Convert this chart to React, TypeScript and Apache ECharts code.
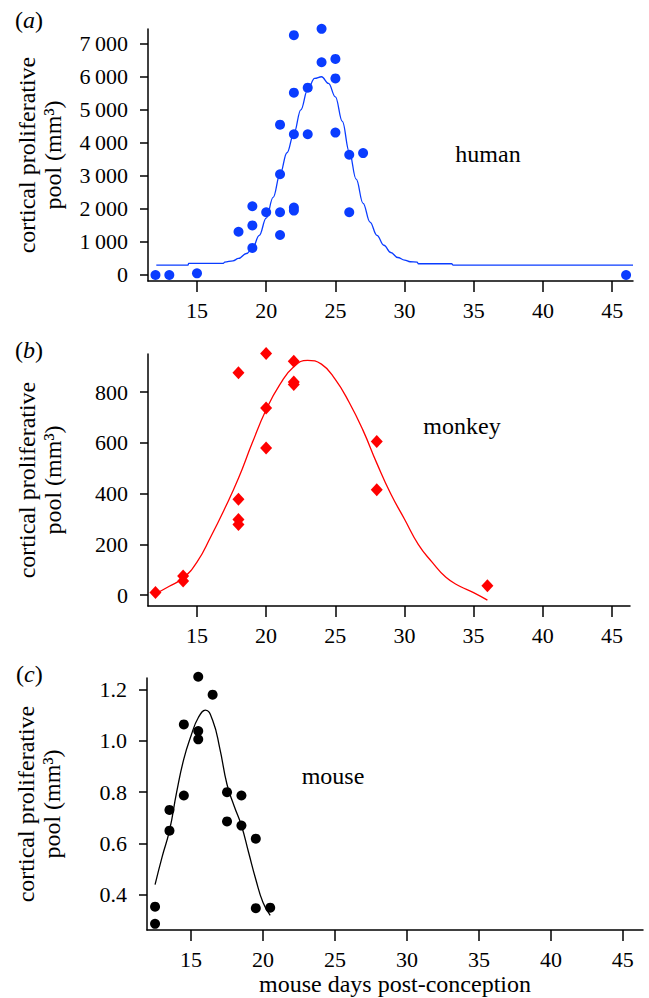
import React, { useEffect, useRef } from "react";
import * as echarts from "echarts";

const FONT = "Liberation Serif";

// Tick values
const xTicks = [15, 20, 25, 30, 35, 40, 45];
const humanYTicks = [0, 1000, 2000, 3000, 4000, 5000, 6000, 7000];
const monkeyYTicks = [0, 200, 400, 600, 800];
const mouseYTicks = [0.4, 0.6, 0.8, 1.0, 1.2];

// Human data (day, pool mm3)
const humanPoints: [number, number][] = [
  [12, 0], [13, 0], [15, 50], [18, 1310], [19, 2080], [19, 1500], [19, 820],
  [20, 1900], [21, 4550], [21, 3050], [21, 1900], [21, 1210],
  [22, 7260], [22, 5520], [22, 4260], [22, 2040], [22, 1950],
  [23, 5670], [23, 4260], [24, 7450], [24, 6440], [25, 6540], [25, 5950], [25, 4310],
  [26, 3640], [26, 1900], [27, 3690], [46, 0],
];
const humanCurve: [number, number][] = [
  [12.06, 300], [14.35, 300], [14.4, 350], [16.9, 350], [17.0, 390], [17.6, 430],
  [18.0, 500], [18.57, 650], [19, 800], [19.5, 1200], [20, 1720], [20.5, 2350],
  [21, 3050], [21.5, 3700], [22, 4280], [22.5, 5000], [23, 5620], [23.5, 5950],
  [24, 6000], [24.5, 5800], [25, 5390], [25.5, 4650], [26, 3730], [26.5, 2900],
  [27, 2170], [27.5, 1600], [28, 1200], [28.5, 900], [29, 680], [29.5, 530],
  [30, 450], [30.4, 400], [30.9, 390], [31.0, 340], [33.4, 340], [33.5, 300], [46.5, 300],
];

// Monkey data
const monkeyPoints: [number, number][] = [
  [12, 10], [14, 75], [14, 56], [18, 876], [18, 378], [18, 298], [18, 278],
  [20, 952], [20, 737], [20, 580], [22, 921], [22, 840], [22, 830],
  [28, 605], [28, 415], [36, 37],
];
const monkeyCurve: [number, number][] = [
  [12, 5], [13, 35], [14, 67], [15, 130], [16, 230], [17, 340], [18, 460],
  [19, 600], [20, 730], [21, 830], [22, 900], [23, 925], [24, 910], [25, 850],
  [26, 760], [27, 650], [28, 520], [29, 400], [30, 300], [31, 200], [32, 130],
  [33, 70], [34, 35], [35, 10], [36, -20],
];

// Mouse data
const mousePoints: [number, number][] = [
  [12.5, 0.354], [12.5, 0.287], [13.5, 0.731], [13.5, 0.65], [14.5, 1.064], [14.5, 0.787],
  [15.5, 1.25], [15.5, 1.038], [15.5, 1.006], [16.5, 1.18], [17.5, 0.8], [17.5, 0.686],
  [18.5, 0.787], [18.5, 0.67], [19.5, 0.619], [19.5, 0.348], [20.5, 0.35],
];
const mouseCurve: [number, number][] = [
  [12.5, 0.44], [13, 0.55], [13.5, 0.65], [14, 0.8], [14.5, 0.93], [15, 1.02],
  [15.5, 1.09], [16, 1.12], [16.5, 1.08], [17, 0.97], [17.5, 0.83], [18, 0.745],
  [18.5, 0.67], [19, 0.565], [19.5, 0.46], [20, 0.37], [20.5, 0.32],
];

const BLUE = "#0a3cff";
const RED = "#ff0000";
const BLACK = "#000000";

function fmtThousands(v: number) {
  if (v === 0) return "0";
  const s = String(Math.round(v));
  return s.slice(0, s.length - 3) + "\u2009" + s.slice(s.length - 3);
}

const labelText = {
  fontFamily: FONT,
  fontSize: 22,
  color: BLACK,
};

function xAxisDef(gridIndex: number, min: number, max: number, extra: any = {}) {
  return {
    type: "value",
    gridIndex,
    min,
    max,
    axisLine: { show: true, onZero: false, lineStyle: { color: BLACK, width: 1.5 } },
    axisTick: { show: true, length: 11, customValues: xTicks, lineStyle: { color: BLACK, width: 1.5 } },
    axisLabel: {
      customValues: xTicks,
      ...labelText,
      margin: 18,
    },
    splitLine: { show: false },
    ...extra,
  };
}

function yAxisDef(gridIndex: number, min: number, max: number, ticks: number[], formatter: (v: number) => string) {
  return {
    type: "value",
    gridIndex,
    min,
    max,
    name: "cortical proliferative\npool (mm\u00b3)",
    nameLocation: "middle",
    nameRotate: 90,
    nameGap: 82,
    nameTextStyle: { fontFamily: FONT, fontSize: 24, lineHeight: 26, color: BLACK },
    axisLine: { show: true, onZero: false, lineStyle: { color: BLACK, width: 1.5 } },
    axisTick: { show: true, length: 8, customValues: ticks, lineStyle: { color: BLACK, width: 1.5 } },
    axisLabel: {
      customValues: ticks,
      formatter,
      ...labelText,
      margin: 20,
    },
    splitLine: { show: false },
  };
}

export default function App() {
  const ref = useRef<HTMLDivElement>(null);
  useEffect(() => {
    document.body.style.margin = "0";
    if (!ref.current) return;
    const chart = echarts.init(ref.current, undefined, { renderer: "svg" });
    const letter = (l: string, x: number, y: number) => ({
      type: "text",
      x,
      y,
      style: {
        text: "{p|(}{i|" + l + "}{p|)}",
        align: "left",
        verticalAlign: "middle",
        rich: {
          p: { fontFamily: FONT, fontSize: 24, fill: BLACK },
          i: { fontFamily: FONT, fontSize: 24, fontStyle: "italic", fill: BLACK },
        },
      },
    });
    const label = (t: string, x: number, y: number) => ({
      type: "text",
      x,
      y,
      style: {
        text: t,
        align: "center",
        verticalAlign: "middle",
        fontFamily: FONT,
        fontSize: 24,
        fill: BLACK,
      },
    });
    chart.setOption({
      animation: false,
      backgroundColor: "#ffffff",
      textStyle: { fontFamily: FONT, color: BLACK },
      grid: [
        { left: 148, top: 29, width: 485, height: 252, containLabel: false, outerBoundsMode: "none" },
        { left: 148, top: 354, width: 482, height: 252, containLabel: false, outerBoundsMode: "none" },
        { left: 147, top: 678, width: 496, height: 252, containLabel: false, outerBoundsMode: "none" },
      ],
      xAxis: [
        xAxisDef(0, 11.46, 46.5),
        xAxisDef(1, 11.46, 46.31),
        xAxisDef(2, 11.94, 46.4, {
          name: "mouse days post-conception",
          nameLocation: "middle",
          nameGap: 42,
          nameTextStyle: { fontFamily: FONT, fontSize: 24, color: BLACK },
        }),
      ],
      yAxis: [
        yAxisDef(0, -182, 7446, humanYTicks, fmtThousands),
        yAxisDef(1, -43, 950, monkeyYTicks, (v: number) => String(Math.round(v))),
        yAxisDef(2, 0.263, 1.245, mouseYTicks, (v: number) => v.toFixed(1)),
      ],
      graphic: [
        letter("a", 15, 20),
        letter("b", 15, 350),
        letter("c", 16, 674),
        label("human", 488, 154),
        label("monkey", 462, 426),
        label("mouse", 333, 776),
      ],
      series: [
        {
          type: "line", xAxisIndex: 0, yAxisIndex: 0, data: humanCurve, showSymbol: false,
          smooth: 0.4, smoothMonotone: "x", lineStyle: { color: BLUE, width: 1.3 }, silent: true,
        },
        {
          type: "scatter", xAxisIndex: 0, yAxisIndex: 0, data: humanPoints, symbol: "circle",
          symbolSize: 10, clip: false, itemStyle: { color: BLUE, opacity: 1 },
        },
        {
          type: "line", xAxisIndex: 1, yAxisIndex: 1, data: monkeyCurve, showSymbol: false,
          smooth: 0.5, lineStyle: { color: RED, width: 1.3 }, silent: true,
        },
        {
          type: "scatter", xAxisIndex: 1, yAxisIndex: 1, data: monkeyPoints, symbol: "diamond",
          symbolSize: [12, 13], clip: false, itemStyle: { color: RED, opacity: 1 },
        },
        {
          type: "line", xAxisIndex: 2, yAxisIndex: 2, data: mouseCurve, showSymbol: false,
          smooth: 0.5, lineStyle: { color: BLACK, width: 1.3 }, silent: true,
        },
        {
          type: "scatter", xAxisIndex: 2, yAxisIndex: 2, data: mousePoints, symbol: "circle",
          symbolSize: 10, clip: false, itemStyle: { color: BLACK, opacity: 1 },
        },
      ],
    });
    return () => chart.dispose();
  }, []);
  return <div ref={ref} style={{ width: 649, height: 998 }} />;
}
